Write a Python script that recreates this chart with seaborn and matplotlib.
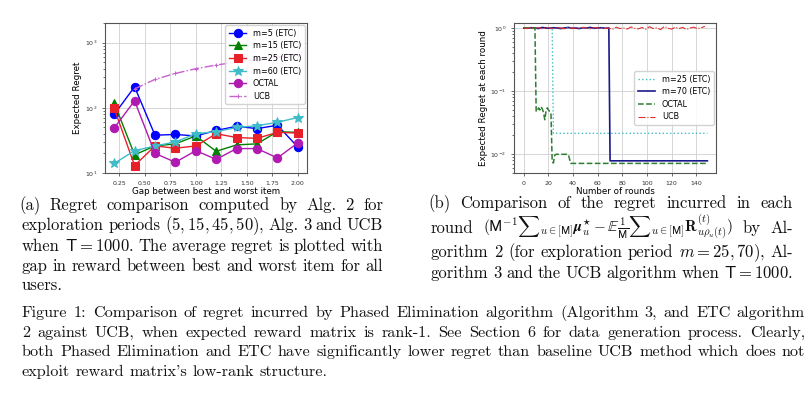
import numpy as np
import seaborn as sns
import matplotlib
matplotlib.use('Agg')
import matplotlib.pyplot as plt

# left panel: regret vs gap
gaps = [0.2, 0.4, 0.6, 0.8, 1.0, 1.2, 1.4, 1.6, 1.8, 2.0]
m5 = [79, 210, 38, 39, 37, 45, 52, 48, 54, 25]
m15 = [119, 19, 26, 28, 37, 21.5, 27, 28, 43, 42]
m25 = [98, 13, 26, 24, 26, 40, 35, 34, 42, 41]
m60 = [14, 22, 26, 30, 40, 43, 50, 53, 60, 71]
octal = [49, 128, 20, 14.6, 22, 16.2, 23.7, 23.7, 17, 29]
ucb_gaps = [0.4, 0.6, 0.8, 1.0, 1.2, 1.4, 1.6, 1.8, 2.0]
ucb = [195, 273, 337, 398, 453, 503, 550, 600, 640]

# right panel: regret per round
last_round = 149
m25_explore_end, m25_switch = 23, 24
m25_explore, m25_commit = 1.0, 0.0213
m70_step = 3
m70_explore = [1.0, 0.99, 1.01, 1.0, 0.98, 1.02, 1.0, 0.99, 1.01, 1.0, 0.98, 1.0,
               1.02, 0.99, 1.0, 0.98, 1.01, 1.0, 1.02, 0.99, 1.0, 1.01, 0.99, 1.0]
m70_switch, m70_commit = 70, 0.0078
octal_rounds = [0, 9, 10, 11, 12, 13, 14, 15, 16, 17, 18, 19, 20, 21, 22, 23, 24,
                25, 26, 36, 37, 38, 149]
octal_vals = [1.0, 1.0, 0.047, 0.05, 0.054, 0.05, 0.056, 0.052, 0.045, 0.035, 0.048,
              0.054, 0.05, 0.047, 0.045, 0.0076, 0.0072, 0.0095, 0.0099, 0.0099,
              0.0085, 0.0071, 0.0071]
ucb_step = 3
ucb_round_vals = [1.0, 0.98, 1.02, 0.99, 1.01, 0.97, 1.02, 1.0, 0.98, 1.01, 1.0, 0.97,
                  1.03, 0.99, 1.0, 0.98, 1.02, 1.0, 0.97, 1.01, 0.99, 1.02, 0.98, 1.0,
                  0.95, 1.03, 0.98, 1.0, 0.96, 1.04, 0.99, 0.97, 1.02, 0.95, 1.05, 0.98,
                  1.01, 0.94, 1.06, 0.99, 0.96, 1.03, 0.98, 1.02, 0.95, 1.0, 1.03, 0.98,
                  1.01, 1.06]

cap_a = ["(a) Regret comparison computed by Alg.  2 for",
         "exploration periods $(5,15,45,50)$, Alg. 3 and UCB",
         r"when $\mathsf{T}=1000$. The average regret is plotted with",
         "gap in reward between best and worst item for all",
         "users."]
cap_b = ["(b) Comparison of the regret incurred in each",
         r"round $(\mathsf{M}^{-1}{\sum}_{u\in[\mathsf{M}]}\boldsymbol{\mu}_u^{\star}"
         r"-\mathbb{E}\frac{1}{\mathsf{M}}{\sum}_{u\in[\mathsf{M}]}\mathbf{R}_{u\rho_u(t)}^{(t)})$ by Al-",
         "gorithm 2 (for exploration period $m=25,70$), Al-",
         r"gorithm 3 and the UCB algorithm when $\mathsf{T}=1000$."]
cap_fig = ["Figure 1:  Comparison of regret incurred by Phased Elimination algorithm (Algorithm 3, and ETC algorithm",
           "2 against UCB, when expected reward matrix is rank-1. See Section 6 for data generation process. Clearly,",
           "both Phased Elimination and ETC have significantly lower regret than baseline UCB method which does not",
           "exploit reward matrix's low-rank structure."]

W, H = 812, 393
fig = plt.figure(figsize=(W / 100, H / 100), dpi=100)
plt.rcParams['font.family'] = ['DejaVu Sans']

def style_ax(ax):
    ax.grid(True, color='#d0d0d0', linewidth=0.6)
    for s in ax.spines.values():
        s.set_color('#555555')
        s.set_linewidth(0.8)
    ax.tick_params(labelsize=4.5, length=2, width=0.5, colors='#333333')
    ax.tick_params(which='minor', length=1.2, width=0.4)

ax1 = fig.add_axes([105 / W, 1 - 173 / H, 202 / W, 150 / H])
kw = dict(ax=ax1, linewidth=1, markersize=6)
sns.lineplot(x=gaps, y=m5, color='blue', marker='o', mec='blue', label='m=5 (ETC)', **kw)
sns.lineplot(x=gaps, y=m15, color='green', marker='^', mec='green', label='m=15 (ETC)', **kw)
sns.lineplot(x=gaps, y=m25, color='#e8202a', marker='s', mec='#e8202a', label='m=25 (ETC)', **kw)
sns.lineplot(x=gaps, y=m60, color='#3fbcc8', marker='*', mec='#3fbcc8', label='m=60 (ETC)',
             ax=ax1, linewidth=1, markersize=7)
sns.lineplot(x=gaps, y=octal, color='#b01ab0', marker='o', mec='#b01ab0', label='OCTAL', **kw)
sns.lineplot(x=ucb_gaps, y=ucb, color='#c860d0', marker='+', mec='#c860d0', linestyle='-.',
             label='UCB', ax=ax1, linewidth=1, markersize=3)
ax1.set_yscale('log')
ax1.set_ylim(10, 2000)
ax1.set_xlabel('Gap between best and worst item', fontsize=6.3, labelpad=1)
ax1.set_ylabel('Expected Regret', fontsize=6.3, labelpad=2)
style_ax(ax1)
ax1.legend(loc='upper right', fontsize=5.8, framealpha=0.85, borderpad=0.4,
           labelspacing=0.45, handlelength=2.2, borderaxespad=0.3)

ax2 = fig.add_axes([514 / W, 1 - 173 / H, 202 / W, 150 / H])
m25_x = [0, m25_explore_end, m25_switch, last_round]
m25_y = [m25_explore, m25_explore, m25_commit, m25_commit]
m70_x = list(range(0, m70_switch, m70_step)) + [m70_switch, last_round]
m70_y = m70_explore + [m70_commit, m70_commit]
ucb_x = list(range(0, last_round + 1, ucb_step))
sns.lineplot(x=m25_x, y=m25_y, ax=ax2, color='#3fbcc8', linestyle=':', linewidth=1, label='m=25 (ETC)')
sns.lineplot(x=m70_x, y=m70_y, ax=ax2, color='#1a1a8c', linestyle='-', linewidth=1.2, label='m=70 (ETC)')
sns.lineplot(x=octal_rounds, y=octal_vals, ax=ax2, color='#2e7d32', linestyle='--', linewidth=1.1, label='OCTAL')
sns.lineplot(x=ucb_x, y=ucb_round_vals, ax=ax2, color='#e03030', linestyle='-.', linewidth=0.8, label='UCB')
ax2.set_yscale('log')
ax2.set_ylim(0.005, 1.2)
ax2.set_xlim(-8, 156)
ax2.set_xlabel('Number of rounds', fontsize=6.3, labelpad=1)
ax2.set_ylabel('Expected Regret at each round', fontsize=6.3, labelpad=2)
style_ax(ax2)
ax2.legend(loc='center right', fontsize=5.8, framealpha=0.85, borderpad=0.4,
           labelspacing=0.45, handlelength=2.2, borderaxespad=0.3)

renderer = fig.canvas.get_renderer()

def put_line(line, x0, x1, y, size, justify=True):
    words = line.split()
    arts = []
    for w in words:
        s = size - 1.0 if r'\sum' in w else size
        arts.append(fig.text(0, 0, w, fontsize=s, family='cmr10', math_fontfamily='cm',
                             va='baseline', ha='left', color='#111111'))
    widths = [a.get_window_extent(renderer).width for a in arts]
    if justify and len(words) > 1:
        gap = (x1 - x0 - sum(widths)) / (len(words) - 1)
    else:
        gap = size * 100 / 72 * 0.33
    x = x0
    for a, w in zip(arts, widths):
        a.set_position((x / W, 1 - y / H))
        x += w + gap

for i, (line, yy) in enumerate(zip(cap_a, [210, 230, 251, 271, 290])):
    put_line(line, 19 if i == 0 else 22, 383, yy, 12.0, justify=i < 4)
for i, (line, yy) in enumerate(zip(cap_b, [208, 233, 257, 278])):
    put_line(line, 428 if i == 0 else 431, 793, yy, 12.0, justify=True)
for i, (line, yy) in enumerate(zip(cap_fig, [317, 337, 356, 376])):
    put_line(line, 22, 805, yy, 11.7, justify=i < 3)

fig.savefig('out.png', dpi=100)
